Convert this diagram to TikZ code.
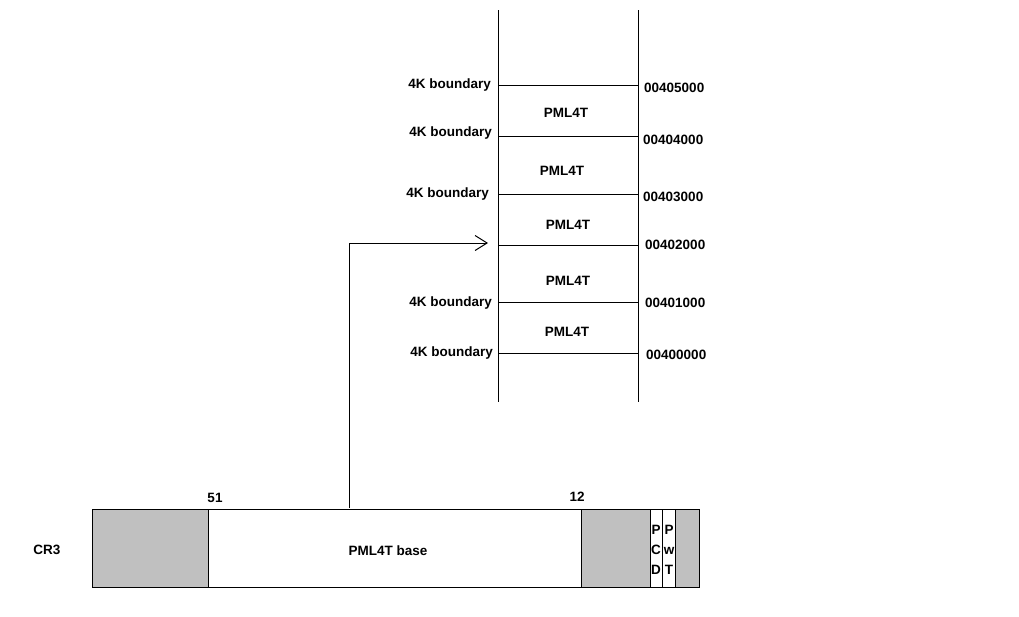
\documentclass[tikz,border=0pt]{standalone}
\usepackage{fontspec}
\setmainfont{Liberation Sans}
\usetikzlibrary{arrows.meta}
\tikzset{
  lbl/.style={font=\fontsize{13.5}{15}\selectfont\bfseries, inner sep=0pt, yshift=-1.5pt},
  bnd/.style={lbl, anchor=east},
  hex/.style={lbl, anchor=west},
  grayseg/.style={draw=black, fill=graybox, line width=1pt},
  whiteseg/.style={draw=black, fill=white, line width=1pt},
  ln/.style={line width=1pt},
}
\definecolor{graybox}{RGB}{192,192,192}
\begin{document}
\begin{tikzpicture}[x=1pt,y=-1pt]
\useasboundingbox (0,0) rectangle (1019,616);
% memory column
\coordinate (lt) at (498,10); \coordinate (lb) at (498,402);
\coordinate (rt) at (638,10); \coordinate (rb) at (638,402);
\draw[ln] (lt) -- (lb);
\draw[ln] (rt) -- (rb);
\foreach \y/\n in {85/a,136/b,194/c,245/d,302/e,353/f}{
  \coordinate (L\n) at (498,\y); \coordinate (R\n) at (638,\y);
  \draw[ln] (L\n) -- (R\n);
}
% boundary labels
\node[bnd] (b1) at (491,84) {4K boundary};
\node[bnd] (b2) at (492,132) {4K boundary};
\node[bnd] (b3) at (489,193) {4K boundary};
\node[bnd] (b4) at (492,302) {4K boundary};
\node[bnd] (b5) at (493,352) {4K boundary};
% addresses
\node[hex] (h1) at (644,86) {00405000};
\node[hex] (h2) at (643,138) {00404000};
\node[hex] (h3) at (643,195) {00403000};
\node[hex] (h4) at (645,243) {00402000};
\node[hex] (h5) at (645,301) {00401000};
\node[hex] (h6) at (646,353) {00400000};
% table labels
\node[lbl] (p1) at (566,111) {PML4T};
\node[lbl] (p2) at (562,169) {PML4T};
\node[lbl] (p3) at (568,223) {PML4T};
\node[lbl] (p4) at (568,279) {PML4T};
\node[lbl] (p5) at (567,330) {PML4T};
% CR3 register
\node[grayseg, minimum width=116pt, minimum height=78pt, anchor=north west, inner sep=0pt] (g1) at (92,509) {};
\node[whiteseg, minimum width=373pt, minimum height=78pt, anchor=north west, inner sep=0pt] (base) at (208,509) {};
\node[grayseg, minimum width=69pt, minimum height=78pt, anchor=north west, inner sep=0pt] (g2) at (581,509) {};
\node[whiteseg, minimum width=12pt, minimum height=78pt, anchor=north west, inner sep=0pt] (pcd) at (650,509) {};
\node[whiteseg, minimum width=13pt, minimum height=78pt, anchor=north west, inner sep=0pt] (pwt) at (662,509) {};
\node[grayseg, minimum width=24pt, minimum height=78pt, anchor=north west, inner sep=0pt] (g3) at (675,509) {};
\node[lbl] (baselbl) at (388,549) {PML4T base};
\node[lbl] (cr3) at (47,548) {CR3};
\node[lbl] (n51) at (215,496) {51};
\node[lbl] (n12) at (577,495) {12};
\node[lbl, align=center, font=\fontsize{13.5}{20}\selectfont\bfseries] (pcdl) at (656,548) {P\\C\\D};
\node[lbl, align=center, font=\fontsize{13.5}{20}\selectfont\bfseries] (pwtl) at (669,548) {P\\w\\T};
% pointer arrow
\coordinate (src) at (349,508);
\coordinate (corner) at (349,243);
\coordinate (dst) at (488,243);
\draw[ln, -{Straight Barb[length=12pt, width=15pt]}] (src) -- (corner) -- (dst);
\end{tikzpicture}
\end{document}
